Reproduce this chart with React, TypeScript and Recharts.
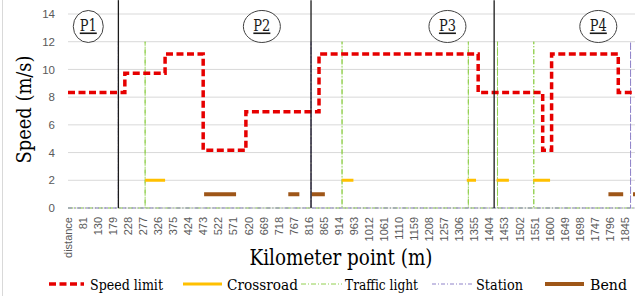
import { LineChart, Line, XAxis, YAxis, CartesianGrid, ReferenceLine, ReferenceDot } from "recharts";

// kilometer points (m) and values
const xTicks = [32, 81, 130, 179, 228, 277, 326, 375, 424, 473, 522, 571, 620, 669, 718, 767, 816, 865, 914, 963, 1012, 1061, 1110, 1159, 1208, 1257, 1306, 1355, 1404, 1453, 1502, 1551, 1600, 1649, 1698, 1747, 1796, 1845];
const yTicks = [0, 2, 4, 6, 8, 10, 12, 14];

const speedKm = [32, 217, 348, 472, 611, 849, 1367, 1577, 1606, 1823, 1910];
const speedLimit = [8.33, 9.72, 11.11, 4.17, 6.94, 11.11, 8.33, 4.17, 11.11, 8.33, 8.33];

const crossroadStart = [283, 923, 1330, 1427, 1546];
const crossroadEnd = [348, 961, 1360, 1467, 1601];
const crossroadLevel = 2;

const bendStart = [475, 749, 825, 1791, 1871];
const bendEnd = [579, 785, 868, 1839, 1910];
const bendLevel = 1;

const trafficLightKm = [283, 924, 1335, 1430, 1548];
const trafficLightLevel = 12;

const stationKm = [196, 823, 1863];
const stationLevel = 12;

const phaseBoundKm = [196, 823, 1419];
const phaseNames = ["P1", "P2", "P3", "P4"];
const phaseKm = [98, 663, 1267, 1758];
const phaseY = 13.1;

const kmMin = 32;
const kmMax = 1910;

// styles
const phaseRx = [15, 18.5, 18.5, 18.5];
const serif = { fontFamily: '"DejaVu Serif", serif' };
const sans = "Liberation Sans, Arial, sans-serif";
const C = {
    speed: "#e60000",
    crossroad: "#ffc000",
    traffic: "#92d050",
    station: "#8f83c9",
    bend: "#9e5618",
    grid: "#d9d9d9",
    tick: "#595959",
};

const stepPoints = speedKm.map((x, i) => ({ x, y: speedLimit[i] }));

const segments = (starts: number[], ends: number[], level: number) =>
    starts.flatMap((s, i) => [{ x: s, y: level }, { x: ends[i], y: level }, { x: ends[i], y: null }]);

const spikes = (at: number[], level: number) => [
    { x: kmMin, y: 0 },
    ...at.flatMap((k) => [{ x: k, y: 0 }, { x: k, y: level }, { x: k, y: 0 }]),
    { x: kmMax, y: 0 },
];

const crossroadData = segments(crossroadStart, crossroadEnd, crossroadLevel);
const bendData = segments(bendStart, bendEnd, bendLevel);
const trafficData = spikes(trafficLightKm, trafficLightLevel);
const stationData = spikes(stationKm, stationLevel);

const KmTick = (props: any) => {
    const { x, y, payload } = props;
    const label = payload.value === kmMin ? "distance" : String(payload.value);
    return (
        <g transform={`translate(${x},${y})`}>
            <text transform="rotate(-90)" x={-9} y={0} dy="0.35em" textAnchor="end"
                fill={C.tick} fontSize={11} style={{ fontFamily: sans }}>{label}</text>
        </g>
    );
};

const phaseShape = (name: string, rx: number) => (props: any) => {
    const { cx, cy } = props;
    return (
        <g>
            <ellipse cx={cx} cy={cy} rx={rx} ry={16} fill="#fff" stroke="#404040" strokeWidth={1} />
            <text x={cx} y={cy + 5} textAnchor="middle" fontSize={16} textLength={17} lengthAdjust="spacingAndGlyphs"
                fill="#1a1a1a" style={{ ...serif, textDecoration: "underline" }}>{name}</text>
        </g>
    );
};

const legendItems = [
    { name: "Speed limit", color: C.speed, width: 3.5, dash: "7 3.5", x1: 49, x2: 84, tx: 90, tw: 73 },
    { name: "Crossroad", color: C.crossroad, width: 3, dash: undefined, x1: 183, x2: 222, tx: 227, tw: 71 },
    { name: "Traffic light", color: C.traffic, width: 1, dash: "5 2 1 2", x1: 301, x2: 342, tx: 345, tw: 73 },
    { name: "Station", color: C.station, width: 1, dash: "4 2 1 2", x1: 432, x2: 473, tx: 476, tw: 47 },
    { name: "Bend", color: C.bend, width: 4, dash: undefined, x1: 545, x2: 584, tx: 590, tw: 37 },
];

export default function App() {
    return (
        <div style={{ position: "absolute", left: 0, top: 0, width: 635, height: 302, overflow: "hidden", background: "#fff" }}>
            <LineChart width={650} height={302} margin={{ top: 14, right: 5, left: 0, bottom: 34 }}>
                <CartesianGrid vertical={false} stroke={C.grid} />
                <XAxis type="number" dataKey="x" domain={[kmMin, kmMax]} ticks={xTicks} interval={0}
                    tick={<KmTick />} tickLine={false} axisLine={false} tickSize={0} tickMargin={0} height={60} allowDataOverflow />
                <YAxis type="number" domain={[0, 14]} ticks={yTicks} width={68} axisLine={false} tickLine={false}
                    tickMargin={7} tick={{ fill: C.tick, fontSize: 11.5, style: { fontFamily: sans } }} />
                <Line data={trafficData} dataKey="y" type="linear" stroke={C.traffic} strokeWidth={1}
                    strokeDasharray="5 2 1 2" dot={false} activeDot={false} isAnimationActive={false} />
                <Line data={stationData} dataKey="y" type="linear" stroke={C.station} strokeWidth={1}
                    strokeDasharray="4 2 1 2" dot={false} activeDot={false} isAnimationActive={false} />
                <Line data={crossroadData} dataKey="y" type="linear" stroke={C.crossroad} strokeWidth={3}
                    dot={false} activeDot={false} isAnimationActive={false} />
                <Line data={bendData} dataKey="y" type="linear" stroke={C.bend} strokeWidth={4}
                    dot={false} activeDot={false} isAnimationActive={false} />
                <Line data={stepPoints} dataKey="y" type="stepAfter" stroke={C.speed} strokeWidth={3.5}
                    strokeDasharray="7 3.5" dot={false} activeDot={false} isAnimationActive={false} />
                {phaseBoundKm.map((k) => (
                    <ReferenceLine key={k} segment={[{ x: k, y: 0 }, { x: k, y: 15 }]} stroke="#1a1a1a"
                        strokeWidth={1.3} ifOverflow="visible" />
                ))}
                {phaseNames.map((n, i) => (
                    <ReferenceDot key={n} x={phaseKm[i]} y={phaseY} r={16} ifOverflow="visible"
                        shape={phaseShape(n, phaseRx[i])} />
                ))}
            </LineChart>
            <svg width={635} height={302} style={{ position: "absolute", left: 0, top: 0, pointerEvents: "none" }}>
                <line x1={2.5} y1={0} x2={2.5} y2={296} stroke={C.grid} strokeWidth={1} />
                <g transform="translate(31,109.5) rotate(-90)">
                    <text x={0} y={0} textAnchor="middle" fontSize={21} textLength={108} lengthAdjust="spacingAndGlyphs"
                        style={serif} fill="#000">Speed (m/s)</text>
                </g>
                <text x={341} y={265} textAnchor="middle" fontSize={21.5} textLength={183} lengthAdjust="spacingAndGlyphs"
                    style={serif} fill="#000">Kilometer point (m)</text>
                {legendItems.map((it) => (
                    <g key={it.name}>
                        <line x1={it.x1} x2={it.x2} y1={284} y2={284} stroke={it.color} strokeWidth={it.width}
                            strokeDasharray={it.dash} />
                        <text x={it.tx} y={290} fontSize={15.5} textLength={it.tw} lengthAdjust="spacingAndGlyphs"
                            style={serif} fill="#000">{it.name}</text>
                    </g>
                ))}
            </svg>
        </div>
    );
}
